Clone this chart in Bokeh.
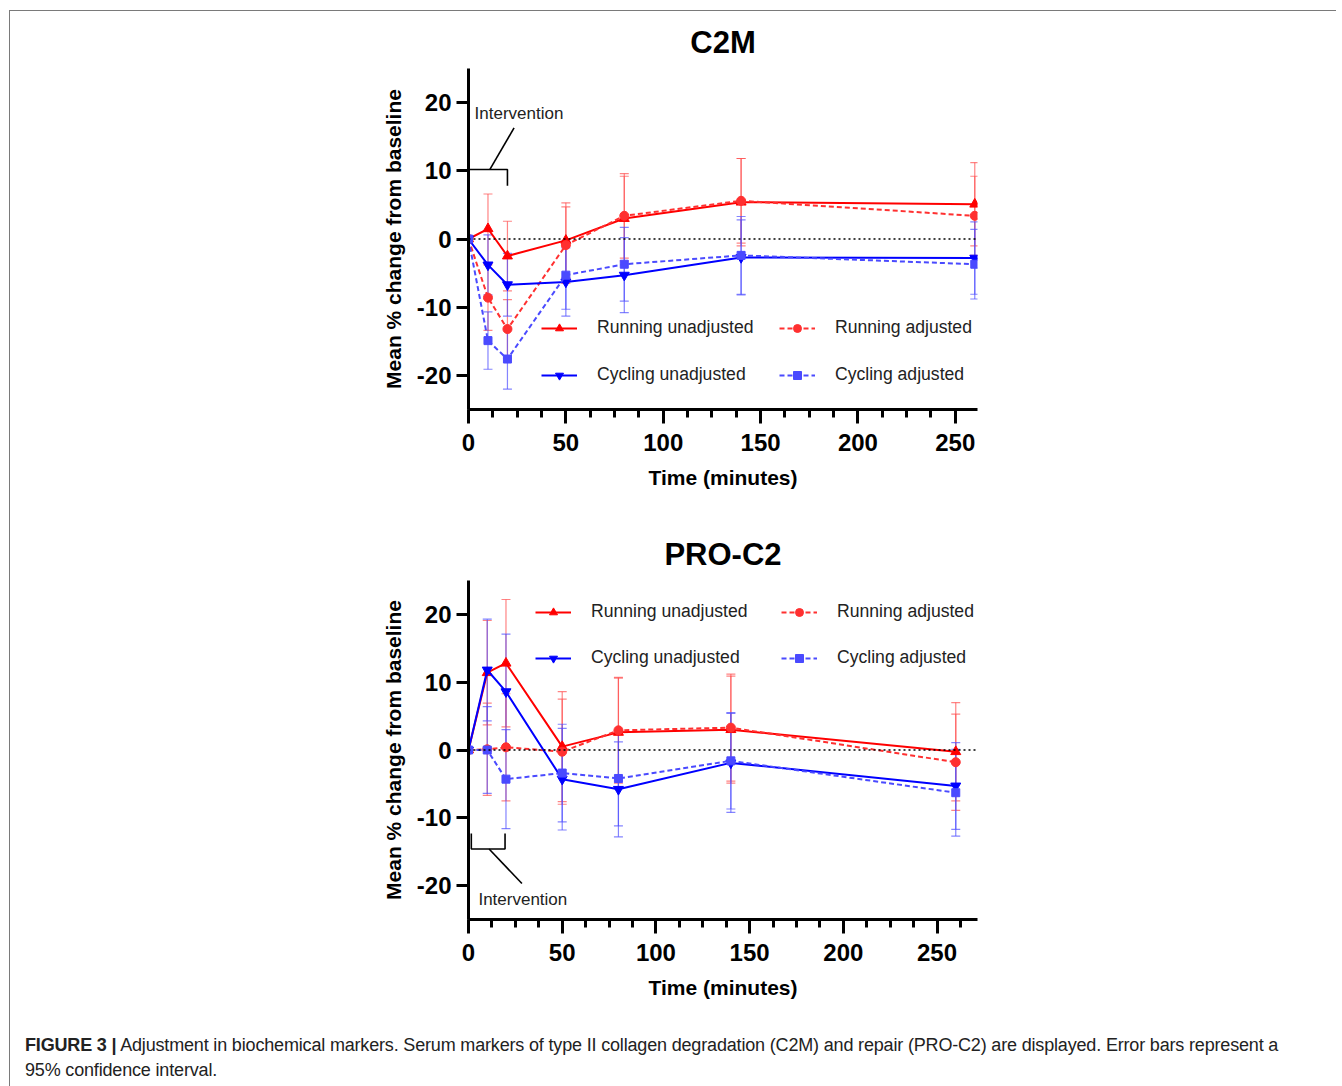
import numpy as np
from bokeh.plotting import figure
from bokeh.models import (ColumnDataSource, Whisker, TeeHead, FixedTicker, Legend,
                          LegendItem, Label, Span, Div)
from bokeh.layouts import column
from bokeh.embed import file_html
from bokeh.resources import INLINE

# ---------------- data ----------------
time_min = [0, 10, 20, 50, 80, 140, 260]
intervention_min = [0, 20]

series_labels = ["Running unadjusted", "Running adjusted", "Cycling unadjusted", "Cycling adjusted"]

# C2M: mean % change and half-width of 95% CI
c2m_run_unadj = [0, 1.5, -2.5, -0.2, 3.0, 5.4, 5.1]
c2m_run_unadj_ci = [0, 5.1, 5.1, 5.5, 6.2, 6.4, 6.1]
c2m_run_adj = [0, -8.6, -13.2, -0.9, 3.4, 5.6, 3.4]
c2m_run_adj_ci = [0, 4.8, 4.3, 5.6, 6.2, 6.2, 5.8]
c2m_cyc_unadj = [0, -3.8, -6.7, -6.3, -5.3, -2.7, -2.8]
c2m_cyc_unadj_ci = [0, 4.4, 4.6, 5.0, 5.5, 5.5, 5.3]
c2m_cyc_adj = [0, -14.9, -17.6, -5.3, -3.7, -2.4, -3.7]
c2m_cyc_adj_ci = [0, 4.2, 4.4, 5.0, 5.4, 5.7, 5.1]

# PRO-C2
pro_run_unadj = [0, 11.4, 12.8, 0.5, 2.6, 3.0, -0.25]
pro_run_unadj_ci = [0, 7.7, 9.4, 8.1, 8.0, 7.9, 7.25]
pro_run_adj = [0, 0.1, 0.4, -0.25, 2.9, 3.3, -1.8]
pro_run_adj_ci = [0, 6.8, 7.9, 7.75, 7.8, 7.9, 7.1]
pro_cyc_unadj = [0, 11.8, 8.6, -4.3, -5.8, -1.9, -5.3]
pro_cyc_unadj_ci = [0, 7.5, 8.5, 7.5, 7.0, 7.3, 6.4]
pro_cyc_adj = [0, 0.0, -4.3, -3.4, -4.2, -1.6, -6.3]
pro_cyc_adj_ci = [0, 6.4, 7.3, 7.2, 7.0, 7.1, 6.4]

x_major_ticks = [0, 50, 100, 150, 200, 250]
x_minor_step = 12.5
y_ticks = [20, 10, 0, -10, -20]
y_tick_labels = ["20", "10", "0", "-10", "-20"]

caption_bold = "FIGURE 3 |"
caption_text = ("Adjustment in biochemical markers. Serum markers of type II collagen degradation (C2M) "
                "and repair (PRO-C2) are displayed. Error bars represent a")
caption_text2 = "95% confidence interval."

# ---------------- styles ----------------
FONT = "Liberation Sans"
styles = [
    dict(color="#FF0000", bar="#FF5050", marker="triangle", size=10, dash="solid"),
    dict(color="#FF3030", bar="#FF5050", marker="circle", size=9, dash="5 3"),
    dict(color="#0000FF", bar="#5050FF", marker="inverted_triangle", size=10, dash="solid"),
    dict(color="#4A4AFF", bar="#5050FF", marker="square", size=8, dash="5 3"),
]


def make_chart(title, series, cis, x_end, width, height, b_left, b_top, b_bottom, frame_w,
               legend_pos, bracket):
    p = figure(width=width, height=height, x_range=(0, x_end), y_range=(-25, 25),
               output_backend="svg", toolbar_location=None,
               min_border_left=b_left, min_border_top=b_top, min_border_bottom=b_bottom,
               min_border_right=width - b_left - frame_w)
    p.outline_line_color = None
    p.grid.visible = False
    p.background_fill_color = "white"
    p.border_fill_color = "white"

    p.title.text = title
    p.title.align = "center"
    p.title.text_font = FONT
    p.title.text_font_size = "31px"
    p.title.text_font_style = "bold"
    p.title.text_color = "black"
    p.title.standoff = 18

    # zero reference
    p.add_layout(Span(location=0, dimension="width", line_color="black",
                      line_dash="2 3", line_width=1.3))

    # axes
    for ax in (p.xaxis, p.yaxis):
        ax.axis_line_width = 3
        ax.axis_line_color = "black"
        ax.major_tick_line_width = 3
        ax.minor_tick_line_width = 3
        ax.major_tick_in = 0
        ax.minor_tick_in = 0
        ax.major_label_text_font = FONT
        ax.major_label_text_font_size = "24px"
        ax.major_label_text_font_style = "bold"
        ax.major_label_text_color = "black"
        ax.axis_label_text_font = FONT
        ax.axis_label_text_font_size = "21px"
        ax.axis_label_text_font_style = "bold"
        ax.axis_label_text_color = "black"
    p.xaxis.ticker = FixedTicker(ticks=x_major_ticks,
                                 minor_ticks=list(np.arange(0, x_major_ticks[-1] + 2 * x_minor_step, x_minor_step)))
    p.xaxis.major_tick_out = 14
    p.xaxis.minor_tick_out = 8
    p.xaxis.major_label_standoff = 10
    p.xaxis.axis_label = "Time (minutes)"
    p.xaxis.axis_label_standoff = 12
    p.yaxis.ticker = FixedTicker(ticks=y_ticks, minor_ticks=[])
    p.yaxis.major_label_overrides = {t: l for t, l in zip(y_ticks, y_tick_labels)}
    p.yaxis.major_tick_out = 12
    p.yaxis.minor_tick_out = 0
    p.yaxis.major_label_standoff = 5
    p.yaxis.axis_label = "Mean % change from baseline"
    p.yaxis.axis_label_standoff = 9

    # error bars
    for vals, ci, st in zip(series, cis, styles):
        xs = [t for t, c in zip(time_min, ci) if c > 0]
        lo = [v - c for v, c in zip(vals, ci) if c > 0]
        hi = [v + c for v, c in zip(vals, ci) if c > 0]
        src = ColumnDataSource(dict(x=xs, lower=lo, upper=hi))
        w = Whisker(source=src, base="x", lower="lower", upper="upper", dimension="height",
                    line_color=st["bar"], line_alpha=0.7, line_width=1.2,
                    upper_head=TeeHead(size=9, line_color=st["bar"], line_alpha=0.7, line_width=1.2),
                    lower_head=TeeHead(size=9, line_color=st["bar"], line_alpha=0.7, line_width=1.2))
        p.add_layout(w)

    # series
    items = []
    for vals, lab, st in zip(series, series_labels, styles):
        src = ColumnDataSource(dict(x=time_min, y=vals))
        lr = p.line("x", "y", source=src, line_color=st["color"], line_width=2, line_dash=st["dash"])
        sr = p.scatter("x", "y", source=src, marker=st["marker"], size=st["size"],
                       fill_color=st["color"], line_color=st["color"])
        items.append(LegendItem(label=lab, renderers=[lr, sr]))

    for item, loc in zip(items, legend_pos):
        lg = Legend(items=[item], location=loc, orientation="vertical", padding=0, margin=0,
                    border_line_color=None, background_fill_alpha=0,
                    glyph_width=36, glyph_height=20, label_height=20, label_standoff=20,
                    label_text_font=FONT, label_text_font_size="17.6px", label_text_color="#222222")
        p.add_layout(lg)

    # intervention bracket
    (bx0, bx1, by, byt, dx0, dx1, dy1, tx, ty) = bracket
    p.line([bx0, bx0, bx1, bx1], [byt, by, by, byt], line_color="black", line_width=1.6)
    p.line([dx0, dx1], [by, dy1], line_color="black", line_width=1.6)
    p.add_layout(Label(x=tx, y=ty, text="Intervention", text_font=FONT, text_font_size="17px",
                       text_baseline="middle", text_align="left", text_color="#222222"))
    return p


W = 1316
p1 = make_chart("C2M",
                [c2m_run_unadj, c2m_run_adj, c2m_cyc_unadj, c2m_cyc_adj],
                [c2m_run_unadj_ci, c2m_run_adj_ci, c2m_cyc_unadj_ci, c2m_cyc_adj_ci],
                x_end=261.4, width=W, height=497, b_left=458, b_top=57, b_bottom=99, frame_w=510,
                legend_pos=[(73, 71), (311, 71), (73, 24), (311, 24)],
                bracket=(intervention_min[0], intervention_min[1], 10.2, 7.8,
                         11.0, 23.4, 16.3, 3.1, 18.4))
p2 = make_chart("PRO-C2",
                [pro_run_unadj, pro_run_adj, pro_cyc_unadj, pro_cyc_adj],
                [pro_run_unadj_ci, pro_run_adj_ci, pro_cyc_unadj_ci, pro_cyc_adj_ci],
                x_end=271.6, width=W, height=507, b_left=458, b_top=72, b_bottom=96, frame_w=509,
                legend_pos=[(67, 297), (313, 297), (67, 251), (313, 251)],
                bracket=(intervention_min[0] + 1.5, intervention_min[1] - 0.5, -14.6, -12.3,
                         11.0, 28.5, -19.7, 5.3, -22.0))

cap_html = ('<div style="font-family:\'Liberation Sans\',Arial,sans-serif;font-size:18px;'
            'letter-spacing:-0.17px;line-height:25px;white-space:nowrap;color:#222;'
            'padding-left:10px;padding-top:13px;">'
            '<b>' + caption_bold + '</b> ' + caption_text + '<br>' + caption_text2 + '</div>')
cap = Div(text=cap_html, width=W, height=71)

layout = column(p1, p2, cap, margin=(10, 0, 0, 9),
                styles={"border-top": "1px solid #7a7a7a", "border-left": "1px solid #7a7a7a"})

html = file_html(layout, INLINE, title="Figure 3")
open("out.html", "w").write(html)
